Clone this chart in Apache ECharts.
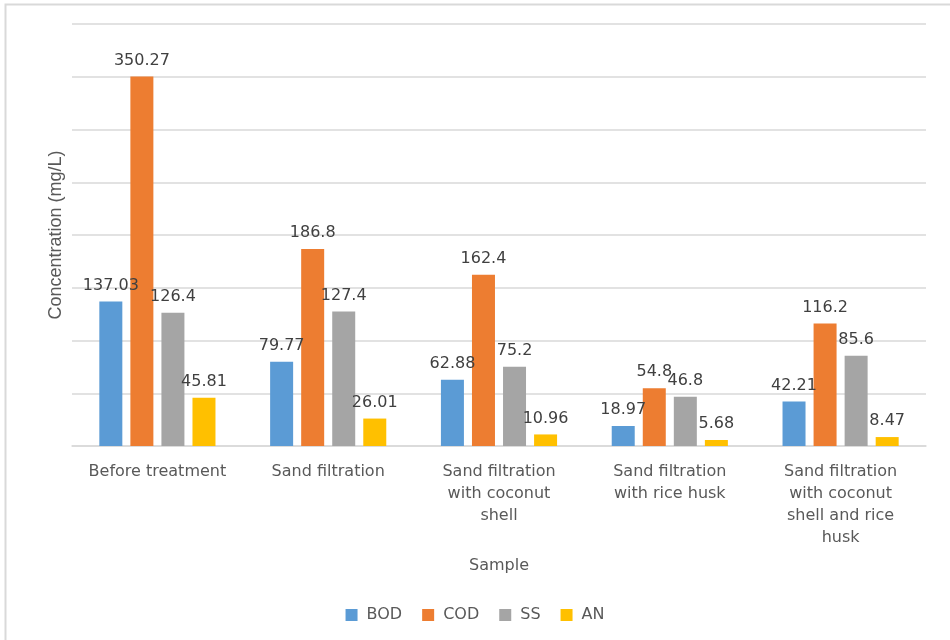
<!DOCTYPE html>
<html>
<head>
<meta charset="utf-8">
<script src="https://cdn.jsdelivr.net/npm/echarts@6/dist/echarts.min.js"></script>
<style>
  html, body { margin: 0; padding: 0; background: #fff; }
  #chart { width: 950px; height: 640px; }
</style>
</head>
<body>
<div id="chart"></div>
<script>
// samples on the x axis
var categories = [
  "Before treatment",
  "Sand filtration",
  "Sand filtration\nwith coconut\nshell",
  "Sand filtration\nwith rice husk",
  "Sand filtration\nwith coconut\nshell and rice\nhusk"
];
var bod = [137.03, 79.77, 62.88, 18.97, 42.21];
var cod = [350.27, 186.8, 162.4, 54.8, 116.2];
var ss = [126.4, 127.4, 75.2, 46.8, 85.6];
var an = [45.81, 26.01, 10.96, 5.68, 8.47];

var seriesNames = ["BOD", "COD", "SS", "AN"];
var seriesData = [bod, cod, ss, an];
var colors = ["#5B9BD5", "#ED7D31", "#A5A5A5", "#FFC000"];

var font = "'DejaVu Sans'";
var chart = echarts.init(document.getElementById("chart"));

var series = seriesNames.map(function (name, i) {
  return {
    name: name,
    type: "bar",
    data: seriesData[i],
    barWidth: 23,
    barGap: "35%",
    itemStyle: { color: colors[i] },
    label: {
      show: true,
      position: "top",
      distance: 8,
      color: "#404040",
      fontFamily: font,
      fontSize: 16
    }
  };
});

var option = {
  backgroundColor: "#fff",
  animation: false,
  color: colors,
  graphic: [{
    type: "rect",
    shape: { x: 5.5, y: 4.5, width: 960, height: 660 },
    style: { fill: "none", stroke: "#d9d9d9", lineWidth: 2 },
    silent: true
  }],
  grid: {
    left: 72,
    right: 24,
    top: 24,
    bottom: 194
  },
  legend: {
    bottom: 12,
    left: "center",
    itemWidth: 12,
    itemHeight: 12,
    itemGap: 20,
    icon: "rect",
    textStyle: { color: "#595959", fontFamily: font, fontSize: 16, padding: [0, 0, 0, 4] },
    data: seriesNames
  },
  xAxis: {
    type: "category",
    data: categories,
    name: "Sample",
    nameLocation: "middle",
    nameGap: 112,
    nameTextStyle: { color: "#595959", fontFamily: font, fontSize: 16 },
    axisLine: { lineStyle: { color: "#d9d9d9", width: 1.5 } },
    axisTick: { show: false },
    axisLabel: {
      interval: 0,
      margin: 15,
      color: "#595959",
      fontFamily: font,
      fontSize: 16,
      lineHeight: 22
    }
  },
  yAxis: {
    type: "value",
    min: 0,
    max: 400,
    interval: 50,
    name: "Concentration (mg/L)",
    nameLocation: "middle",
    nameGap: 7,
    nameTextStyle: { color: "#595959", fontFamily: "'Liberation Sans'", fontSize: 18 },
    axisLabel: { show: false },
    axisLine: { show: false },
    axisTick: { show: false },
    splitLine: { lineStyle: { color: "#d9d9d9", width: 1.5 } }
  },
  series: series
};

chart.setOption(option);
</script>
</body>
</html>
